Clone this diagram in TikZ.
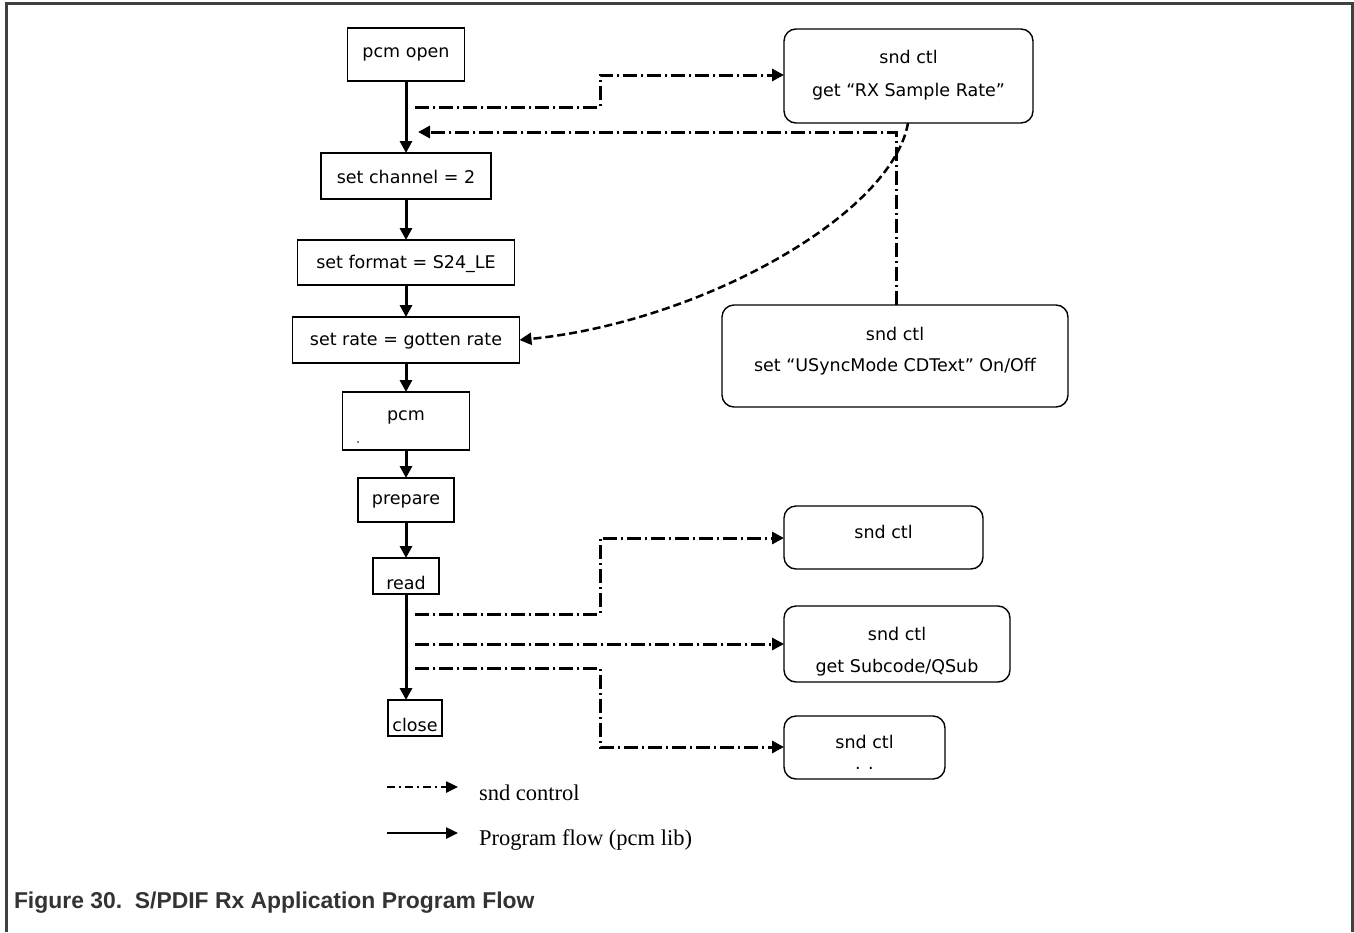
\documentclass[tikz,border=0pt]{standalone}
\usepackage{fontspec}
\setmainfont{DejaVu Sans}
\newfontfamily\legendfont{Liberation Serif}
\newfontfamily\capfont{Liberation Sans}
\usetikzlibrary{arrows.meta}
\begin{document}
\begin{tikzpicture}[x=1pt,y=-1pt,
  every node/.style={inner sep=0pt,outer sep=0pt},
  flowbox/.style={draw=black,line width=1.4pt,rectangle},
  ctlbox/.style={draw=black,line width=1.4pt,rectangle,rounded corners=12pt},
  boxtext/.style={font=\fontsize{17.5}{20}\selectfont},
  flow/.style={line width=3pt,-{Triangle[length=12pt,width=12pt]}},
  ctl/.style={line width=3pt,dash pattern=on 14pt off 4pt on 2pt off 4pt},
  ctlarrow/.style={ctl,-{Triangle[length=12pt,width=12pt]}},
  frameline/.style={draw=black!75,line width=3pt}]
\useasboundingbox (0,0) rectangle (1354,932);
\fill[white] (0,0) rectangle (1354,932);
% frame
\draw[frameline] (6,932) -- (6,3) -- (1352,3) -- (1352,932);
% flow boxes
\node[flowbox,minimum width=117pt,minimum height=53pt] (open) at (406,54.5) {};
\node[boxtext] (topen) at (406,54) {pcm open};
\node[flowbox,minimum width=170pt,minimum height=46pt] (chan) at (406,176) {};
\node[boxtext] (tchan) at (406,177) {set channel = 2};
\node[flowbox,minimum width=217pt,minimum height=45pt] (fmt) at (406,262.5) {};
\node[boxtext] (tfmt) at (406,264) {set format = S24\_LE};
\node[flowbox,minimum width=227pt,minimum height=46pt] (rate) at (406,340) {};
\node[boxtext] (trate) at (406,341) {set rate = gotten rate};
\node[flowbox,minimum width=127pt,minimum height=58pt] (pcm) at (406,421) {};
\node[boxtext] (tpcm) at (406,417) {pcm};
\fill (358,442) circle (0.8pt);
\node[flowbox,minimum width=96pt,minimum height=44pt] (prep) at (406,500) {};
\node[boxtext] (tprep) at (406,501) {prepare};
\node[flowbox,minimum width=66pt,minimum height=36pt] (read) at (406,576) {};
\node[boxtext] (tread) at (406,583) {read};
\node[flowbox,minimum width=54pt,minimum height=36pt] (close) at (415,718) {};
\node[boxtext] (tclose) at (415,725) {close};
% control boxes
\node[ctlbox,minimum width=249pt,minimum height=94pt] (rx) at (908.5,76) {};
\node[boxtext] (trx1) at (908.5,57) {snd ctl};
\node[boxtext] (trx2) at (908.5,92) {get “RX Sample Rate”};
\node[ctlbox,minimum width=346pt,minimum height=102pt] (us) at (895,356) {};
\node[boxtext] (tus1) at (895,334) {snd ctl};
\node[boxtext] (tus2) at (895,367) {set “USyncMode CDText” On/Off};
\node[ctlbox,minimum width=199pt,minimum height=63pt] (c1) at (883.5,537.5) {};
\node[boxtext] (tc1) at (883.5,532) {snd ctl};
\node[ctlbox,minimum width=226pt,minimum height=76pt] (c2) at (897,644) {};
\node[boxtext] (tc21) at (897,634) {snd ctl};
\node[boxtext] (tc22) at (897,668) {get Subcode/QSub};
\node[ctlbox,minimum width=161pt,minimum height=63pt] (c3) at (864.5,747.5) {};
\node[boxtext] (tc31) at (864.5,742) {snd ctl};
\node[boxtext] (tc32) at (864.5,768) {. .};
% program flow
\draw[flow] (open.south) -- (chan.north);
\draw[flow] (chan.south) -- (fmt.north);
\draw[flow] (fmt.south) -- (rate.north);
\draw[flow] (rate.south) -- (pcm.north);
\draw[flow] (pcm.south) -- (prep.north);
\draw[flow] (prep.south) -- (read.north);
\draw[flow] (read.south) -- (read.south |- close.north);
% control lines
\coordinate (s1) at (415,107);
\draw[ctlarrow] (s1) -- (600,107) -- (600,75) -- (rx.west |- 600,75);
\coordinate (e2) at (418,132);
\draw[ctlarrow] (us.north -| 896,0) -- (896,132) -- (e2);
\draw[line width=2.5pt,dash pattern=on 8pt off 4pt,-{Triangle[length=12pt,width=12pt]}]
  (908,123) .. controls (892,215) and (700,322) .. (rate.east);
\coordinate (s4) at (415,614);
\draw[ctlarrow] (s4) -- (600,614) -- (600,538) -- (c1.west |- 600,538);
\coordinate (s5) at (415,644);
\draw[ctlarrow] (s5) -- (c2.west |- s5);
\coordinate (s6) at (415,668);
\draw[ctlarrow] (s6) -- (600,668) -- (600,747) -- (c3.west |- 600,747);
% legend
\coordinate (l1a) at (387,787);
\coordinate (l1b) at (458,787);
\draw[line width=2.5pt,dash pattern=on 8pt off 4pt on 2pt off 4pt,-{Triangle[length=12pt,width=11pt]}] (l1a) -- (l1b);
\node[anchor=west,font=\legendfont\fontsize{22.5}{26}\selectfont] (lg1) at (479,793) {snd control};
\coordinate (l2a) at (387,833);
\coordinate (l2b) at (458,833);
\draw[line width=2.5pt,-{Triangle[length=12pt,width=11pt]}] (l2a) -- (l2b);
\node[anchor=west,font=\legendfont\fontsize{22.5}{26}\selectfont] (lg2) at (479,840) {Program flow (pcm lib)};
% caption
\node[anchor=west,font=\capfont\bfseries\fontsize{22.9}{26}\selectfont,text=black!80] (cap) at (14,903) {Figure 30.\ \ S/PDIF Rx Application Program Flow};
\end{tikzpicture}
\end{document}
